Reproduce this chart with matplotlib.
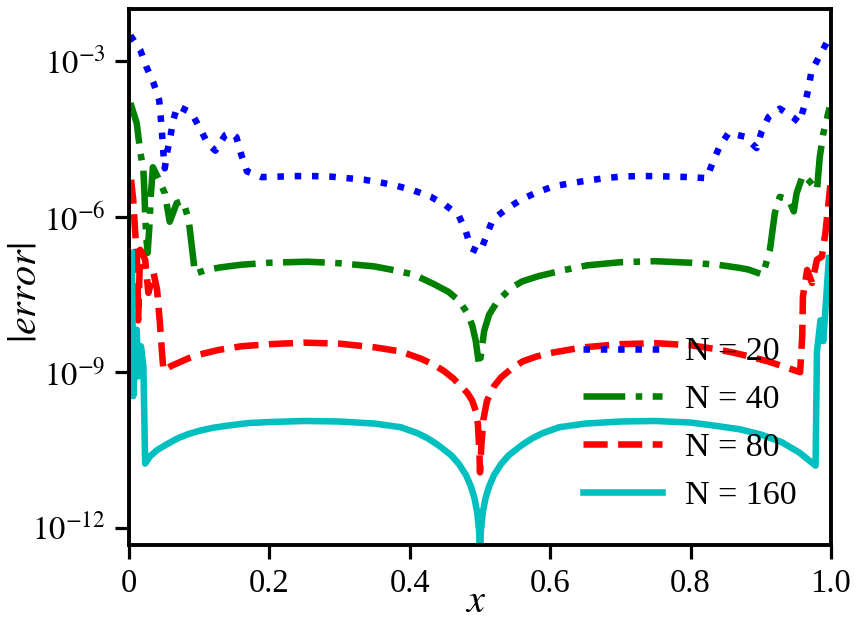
import numpy as np
import matplotlib
matplotlib.use("Agg")
import matplotlib.pyplot as plt
from matplotlib.ticker import NullLocator, FixedLocator

plt.rcParams['font.family'] = ['Liberation Serif', 'DejaVu Serif']
plt.rcParams['mathtext.fontset'] = 'stix'
plt.rcParams['font.size'] = 23.5

# ---- data (x, log10|error|) ----
x20 = [0.002, 0.016, 0.025, 0.035, 0.043, 0.046, 0.049, 0.051, 0.054, 0.059, 0.063, 0.069,
       0.089, 0.101, 0.112, 0.123, 0.137, 0.145, 0.153, 0.160, 0.168, 0.189, 0.213, 0.24,
       0.263, 0.287, 0.311, 0.335, 0.361, 0.382, 0.406, 0.43, 0.451, 0.47, 0.48, 0.487, 0.50,
       0.509, 0.518, 0.537, 0.559, 0.58, 0.604, 0.628, 0.651, 0.678, 0.701, 0.725, 0.749,
       0.773, 0.799, 0.823, 0.832, 0.841, 0.854, 0.877, 0.894, 0.901, 0.911,
       0.927, 0.946, 0.955, 0.962, 0.968, 0.972, 0.983, 0.995]
e20 = [-2.51, -2.79, -3.12, -3.43, -3.76, -4.2, -4.78, -5.07, -4.78, -4.46, -4.14, -3.87,
       -4.0, -4.3, -4.59, -4.73, -4.43, -4.38, -4.47, -4.81, -5.13, -5.24, -5.23, -5.22,
       -5.22, -5.23, -5.26, -5.29, -5.35, -5.41, -5.5, -5.62, -5.78, -5.99, -6.29, -6.61, -6.69,
       -6.38, -6.06, -5.86, -5.67, -5.54, -5.42, -5.36, -5.31, -5.26, -5.23, -5.22, -5.22,
       -5.23, -5.24, -5.26, -4.94, -4.66, -4.39, -4.46, -4.68, -4.37, -4.08,
       -3.92, -4.09, -4.19, -3.87, -3.53, -3.21, -2.92, -2.62]

x40 = [0.002, 0.011, 0.016, 0.0205, 0.022, 0.023, 0.025, 0.0265, 0.029, 0.031, 0.034, 0.041,
       0.051, 0.058, 0.068, 0.077, 0.085, 0.0895, 0.094, 0.11, 0.13, 0.159, 0.2, 0.254, 0.3,
       0.349, 0.38, 0.406, 0.434, 0.455, 0.47, 0.482, 0.489, 0.494, 0.497, 0.499, 0.503,
       0.506, 0.513, 0.525, 0.544, 0.56, 0.583, 0.62, 0.653, 0.7, 0.749, 0.8, 0.839, 0.87,
       0.882, 0.903, 0.913, 0.92, 0.927, 0.94, 0.947, 0.951, 0.96,
       0.97, 0.98, 0.984, 0.989, 0.998]
e40 = [-3.81, -4.2, -4.75, -5.1, -5.55, -6.0, -6.45, -6.7, -6.2, -5.6, -5.05, -5.24,
       -5.55, -6.1, -5.74, -5.7, -6.06, -6.58, -7.1, -7.03, -6.98, -6.93, -6.89, -6.87, -6.9,
       -6.96, -7.04, -7.12, -7.3, -7.45, -7.62, -7.86, -8.1, -8.4, -8.7, -8.88, -8.5,
       -8.2, -7.89, -7.63, -7.38, -7.25, -7.15, -7.03, -6.94, -6.88, -6.86, -6.89, -6.93, -6.99,
       -7.02, -7.12, -6.64, -5.93, -5.62, -5.68, -5.9, -5.55, -5.2,
       -5.33, -5.49, -4.85, -4.4, -3.9]

x80 = [0.003, 0.006, 0.0086, 0.011, 0.0124, 0.013, 0.016, 0.023, 0.0276, 0.035, 0.04, 0.044,
       0.0467, 0.049, 0.06, 0.07, 0.085, 0.1, 0.128, 0.16, 0.2, 0.25, 0.3, 0.35, 0.387,
       0.416, 0.435, 0.449, 0.462, 0.473, 0.482, 0.489, 0.494, 0.497, 0.499, 0.5, 0.502,
       0.505, 0.51, 0.52, 0.53, 0.545, 0.561, 0.58, 0.6, 0.647, 0.7, 0.75, 0.8, 0.834,
       0.86, 0.882, 0.91, 0.93, 0.956, 0.959, 0.96, 0.966, 0.973, 0.98, 0.987, 0.992, 0.999]
e80 = [-5.29, -5.68, -6.26, -6.7, -7.28, -8.0, -6.64, -6.83, -7.47, -7.09, -7.41, -8.05,
       -8.56, -8.97, -8.88, -8.82, -8.73, -8.66, -8.57, -8.5, -8.46, -8.43, -8.45, -8.52, -8.6,
       -8.74, -8.86, -8.98, -9.12, -9.27, -9.4, -9.55, -9.75, -10.0, -10.5, -10.93, -10.4,
       -9.9, -9.55, -9.27, -9.1, -8.93, -8.79, -8.7, -8.63, -8.52, -8.46, -8.44, -8.48, -8.55,
       -8.62, -8.69, -8.79, -8.88, -9.0, -8.3, -7.54, -7.03, -7.28, -6.83, -6.77, -6.32, -5.4]

x160 = [0.004, 0.005, 0.006, 0.011, 0.0133, 0.017, 0.0205, 0.023, 0.03, 0.04, 0.055, 0.07,
        0.085, 0.1, 0.12, 0.14, 0.17, 0.2, 0.25, 0.3, 0.35, 0.387, 0.41, 0.425, 0.44, 0.459,
        0.47, 0.48, 0.487, 0.492, 0.496, 0.499, 0.5, 0.501, 0.504, 0.508, 0.513, 0.52, 0.53,
        0.541, 0.56, 0.575, 0.59, 0.613, 0.65, 0.7, 0.75, 0.8, 0.834, 0.87, 0.9, 0.93, 0.955,
        0.978, 0.980, 0.985, 0.989, 0.997]
e160 = [-6.7, -7.9, -9.46, -8.18, -9.08, -8.5, -8.88, -10.76, -10.62, -10.5, -10.38, -10.27,
        -10.19, -10.13, -10.07, -10.03, -9.98, -9.96, -9.94, -9.95, -9.99, -10.06, -10.17, -10.27,
        -10.4, -10.6, -10.77, -10.98, -11.2, -11.42, -11.7, -12.1, -13.0, -12.1, -11.7, -11.42,
        -11.2, -10.98, -10.77, -10.6, -10.4, -10.27, -10.17, -10.06, -9.99, -9.95, -9.94, -9.97,
        -10.03, -10.1, -10.2, -10.35, -10.55, -10.8, -8.6, -8.0, -8.4, -6.8]

labels = ['N = 20', 'N = 40', 'N = 80', 'N = 160']
xticks = [0, 0.2, 0.4, 0.6, 0.8, 1.0]
xticklabels = ['0', '0.2', '0.4', '0.6', '0.8', '1.0']
yticks = [1e-12, 1e-9, 1e-6, 1e-3]
yticklabels = [r'$10^{-12}$', r'$10^{-9}$', r'$10^{-6}$', r'$10^{-3}$']

fig = plt.figure(figsize=(8.62, 6.2), dpi=100)
ax = fig.add_axes([129/862, 1-545/620, (831-129)/862, (545-9)/620])

lw = 4.7
ax.plot(x20, 10.0**np.array(e20), ':', color='b', lw=lw, label=labels[0])
ax.plot(x40, 10.0**np.array(e40), '-.', color='g', lw=lw, label=labels[1])
ax.plot(x80, 10.0**np.array(e80), '--', color='r', lw=lw, label=labels[2])
ax.plot(x160, 10.0**np.array(e160), '-', color='c', lw=lw, label=labels[3])

ax.set_yscale('log')
ax.set_xlim(0, 1)
ax.set_ylim(10**-12.33, 10**-2.0)
ax.yaxis.set_major_locator(FixedLocator(yticks))
ax.yaxis.set_minor_locator(NullLocator())
ax.set_yticklabels(yticklabels)
ax.set_xticks(xticks)
ax.set_xticklabels(xticklabels)

for s in ax.spines.values():
    s.set_linewidth(2.8)
ax.tick_params(axis='both', which='major', length=10, width=2.3, pad=7)

ax.set_ylabel(r'$|error|$', fontsize=29)
ax.yaxis.set_label_coords(-0.12, 0.47)
ax.set_xlabel(r'$x$', fontsize=29)
ax.xaxis.set_label_coords(0.493, -0.072)

ax.legend(loc='lower right', frameon=False, fontsize=24.5, handlelength=2.3,
          handletextpad=0.7, borderaxespad=0.6)

fig.savefig('out.png', dpi=100)
